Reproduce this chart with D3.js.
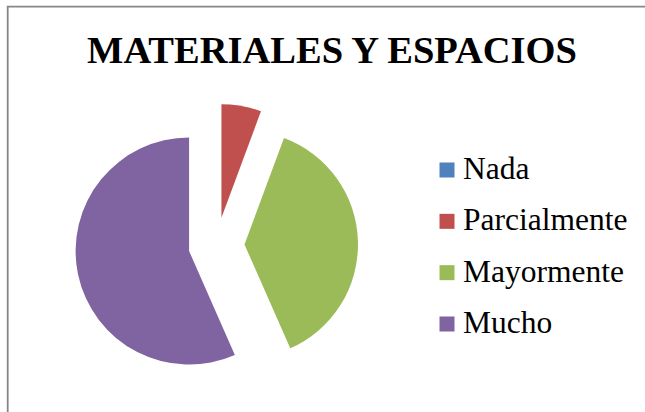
<!DOCTYPE html>
<html>
<head>
<meta charset="utf-8">
<script src="https://cdn.jsdelivr.net/npm/d3@7"></script>
<style>
html,body{margin:0;padding:0;background:#fff;overflow:hidden;width:645px;height:412px;}
svg{display:block;}
</style>
</head>
<body>
<svg id="chart" width="645" height="412"></svg>
<script>
const categories = ["Nada", "Parcialmente", "Mayormente", "Mucho"];
const values = [0, 3, 20, 30];
const colors = ["#4F81BD", "#C0504D", "#9BBB59", "#8064A2"];
const title = "MATERIALES Y ESPACIOS";

const svg = d3.select("#chart");
const W = 645, H = 412;

svg.append("rect").attr("x", 0).attr("y", 0).attr("width", W).attr("height", H).attr("fill", "#fff");
svg.append("path")
  .attr("d", `M7.7,${H + 5} V6.7 H${W + 40}`)
  .attr("fill", "none").attr("stroke", "#868686").attr("stroke-width", 1.8);

svg.append("text")
  .attr("x", 332).attr("y", 62.5)
  .attr("text-anchor", "middle")
  .attr("font-family", "'Liberation Serif', 'Times New Roman', serif")
  .attr("font-weight", "bold")
  .attr("font-size", "38.5px")
  .attr("fill", "#000")
  .text(title);

const data = categories.map((c, i) => ({cat: c, value: values[i], color: colors[i]}));
const pie = d3.pie().sort(null).value(d => d.value).startAngle(0).endAngle(2 * Math.PI);
const r = 113.5, explode = 28;
const cx = 216.5, cy = 245.3;
const arc = d3.arc().innerRadius(0).outerRadius(r);

const g = svg.append("g").attr("transform", `translate(${cx},${cy})`);
g.selectAll("path")
  .data(pie(data).filter(d => d.data.value > 0))
  .join("path")
  .attr("d", arc)
  .attr("fill", d => d.data.color)
  .attr("transform", d => {
    const a = (d.startAngle + d.endAngle) / 2;
    return `translate(${Math.sin(a) * explode},${-Math.cos(a) * explode})`;
  });

const legend = svg.append("g");
const rowY = d3.scaleLinear().domain([0, categories.length - 1]).range([179, 333]);
data.forEach((d, i) => {
  const y = rowY(i);
  legend.append("rect")
    .attr("x", 439.5).attr("y", y - 16.5).attr("width", 15).attr("height", 15)
    .attr("fill", d.color);
  legend.append("text")
    .attr("x", 463).attr("y", y)
    .attr("font-family", "'Liberation Serif', 'Times New Roman', serif")
    .attr("font-size", "31.5px")
    .attr("fill", "#000")
    .text(d.cat);
});
</script>
</body>
</html>
